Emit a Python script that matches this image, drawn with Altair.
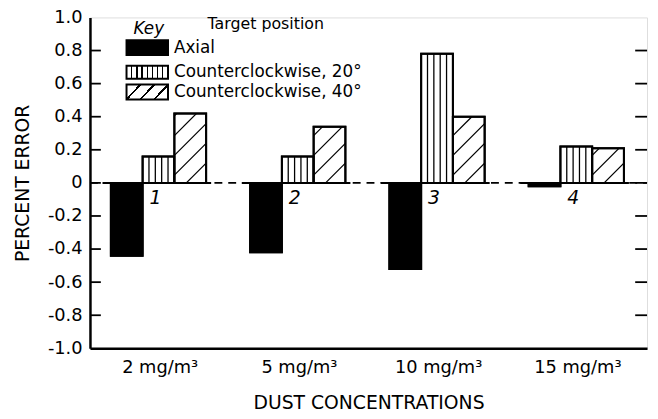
import json
import altair as alt
import pandas as pd

# ---------------- data ----------------
concentrations = ["2 mg/m³", "5 mg/m³", "10 mg/m³", "15 mg/m³"]
group_numbers = ["1", "2", "3", "4"]
series = ["Axial", "Counterclockwise, 20°", "Counterclockwise, 40°"]
axial = [-0.44, -0.42, -0.52, -0.02]
ccw20 = [0.16, 0.16, 0.78, 0.22]
ccw40 = [0.42, 0.34, 0.40, 0.21]
y_ticks = [-1.0, -0.8, -0.6, -0.4, -0.2, 0.0, 0.2, 0.4, 0.6, 0.8, 1.0]
inner_ticks = [-0.8, -0.6, -0.4, -0.2, 0.0, 0.2, 0.4, 0.6, 0.8]

# ---------------- layout / style ----------------
W, H = 564, 335
PXX = W / 4.0          # px per group unit
PXY = H / 2.0          # px per value unit
BAR_W = 0.228
OFFSETS = [-0.35, -0.122, 0.106]
BW_PX = BAR_W * PXX
HATCH_S = 20.0
FONT = "DejaVu Sans"

rows = []
for gi, conc in enumerate(concentrations):
    for si, vals in enumerate([axial, ccw20, ccw40]):
        x0 = gi + 1 + OFFSETS[si]
        rows.append(dict(conc=conc, group=gi + 1, series=series[si],
                         value=vals[gi], x0=x0, x1=x0 + BAR_W, base=0.0))
bars = pd.DataFrame(rows)

groups = pd.DataFrame({"group": list(range(1, len(concentrations) + 1)),
                       "num": group_numbers})

xscale = alt.Scale(domain=[0.5, len(concentrations) + 0.5], nice=False, zero=False)
yscale = alt.Scale(domain=[-1, 1], nice=False, zero=False)

label_expr = json.dumps(concentrations) + "[datum.value - 1]"
xaxis = alt.Axis(values=list(range(1, len(concentrations) + 1)), labelExpr=label_expr,
                 title="DUST CONCENTRATIONS", ticks=False, grid=False,
                 domainColor="black", domainWidth=2.5, labelFontSize=18,
                 labelPadding=10, titleFontSize=19, titlePadding=18,
                 labelFont=FONT, titleFont=FONT, titleFontWeight="normal",
                 labelColor="black", titleColor="black", labelOverlap=False)
yaxis = alt.Axis(values=y_ticks,
                 labelExpr="datum.value == 0 ? '0' : (datum.value < 0 ? '-' : '') + format(abs(datum.value), '.1f')",
                 title="PERCENT ERROR", ticks=False, grid=False,
                 domainColor="black", domainWidth=2.5, labelFontSize=18,
                 labelPadding=8, titleFontSize=19, titlePadding=15,
                 labelFont=FONT, titleFont=FONT, titleFontWeight="normal",
                 labelColor="black", titleColor="black", labelOverlap=False)

one = pd.DataFrame({"a": [0]})

# zero line: dashed across, solid under each group
zero_dash = alt.Chart(one).mark_rule(color="black", strokeWidth=1.8, strokeDash=[8, 6]).encode(
    x=alt.value(0), x2=alt.value(W), y=alt.datum(0, scale=yscale, axis=yaxis))
zero_solid = alt.Chart(groups).transform_calculate(
    xa="datum.group - 0.41", xb="datum.group + 0.37", z="0"
).mark_rule(color="black", strokeWidth=2).encode(
    x=alt.X("xa:Q", scale=xscale, axis=xaxis), x2="xb:Q", y=alt.Y("z:Q", scale=yscale, axis=yaxis))

# bars (fill)
bar_fill = alt.Chart(bars).mark_rect(stroke="black", strokeWidth=2).encode(
    x=alt.X("x0:Q", scale=xscale, axis=xaxis),
    x2="x1:Q",
    y=alt.Y("value:Q", scale=yscale, axis=yaxis),
    y2="base:Q",
    fill=alt.Fill("series:N", scale=alt.Scale(domain=series, range=["black", "white", "white"]),
                  legend=None),
)

# vertical stripes for Counterclockwise, 20°
vstripes = alt.Chart(bars).transform_filter(
    alt.datum.series == series[1]
).transform_calculate(
    ks="sequence(1, 5)"
).transform_flatten(["ks"]).transform_calculate(
    xs=f"datum.x0 + datum.ks * {BAR_W} / 5"
).mark_rule(color="black", strokeWidth=1.3).encode(
    x=alt.X("xs:Q", scale=xscale, axis=xaxis), y=alt.Y("value:Q", scale=yscale, axis=yaxis), y2="base:Q")

# diagonal hatch for Counterclockwise, 40°
hatch = alt.Chart(bars).transform_filter(
    alt.datum.series == series[2]
).transform_calculate(
    ks="sequence(1, 30)"
).transform_flatten(["ks"]).transform_calculate(
    hpx=f"datum.value * {PXY}",
    c=f"-{BW_PX} + datum.ks * {HATCH_S}",
).transform_filter("datum.c < datum.hpx").transform_calculate(
    u1="max(0, -datum.c)",
    u2=f"min({BW_PX}, datum.hpx - datum.c)",
).transform_filter("datum.u2 > datum.u1").transform_calculate(
    hx1=f"datum.x0 + datum.u1 / {PXX}",
    hx2=f"datum.x0 + datum.u2 / {PXX}",
    hy1=f"(datum.u1 + datum.c) / {PXY}",
    hy2=f"(datum.u2 + datum.c) / {PXY}",
).mark_rule(color="black", strokeWidth=1.3).encode(
    x=alt.X("hx1:Q", scale=xscale, axis=xaxis), x2="hx2:Q",
    y=alt.Y("hy1:Q", scale=yscale, axis=yaxis), y2="hy2:Q")

# outlines on top
bar_outline = alt.Chart(bars).mark_rect(stroke="black", strokeWidth=2, fillOpacity=0, fill="white").encode(
    x=alt.X("x0:Q", scale=xscale, axis=xaxis), x2="x1:Q",
    y=alt.Y("value:Q", scale=yscale, axis=yaxis), y2="base:Q")

# group number labels
nums = alt.Chart(groups).transform_calculate(
    xn="datum.group - 0.03", yn="-0.09"
).mark_text(font=FONT, fontSize=19, fontStyle="italic", color="black",
            baseline="middle", align="center").encode(
    x=alt.X("xn:Q", scale=xscale, axis=xaxis), y=alt.Y("yn:Q", scale=yscale, axis=yaxis), text="num:N")

# inward ticks on left and right
tick_df = pd.DataFrame({"t": inner_ticks})
ticks_left = alt.Chart(tick_df).mark_rule(color="black", strokeWidth=1.8).encode(
    x=alt.value(0), x2=alt.value(11), y=alt.Y("t:Q", scale=yscale, axis=yaxis))
ticks_right = alt.Chart(tick_df).mark_rule(color="black", strokeWidth=1.8).encode(
    x=alt.value(W - 12), x2=alt.value(W), y=alt.Y("t:Q", scale=yscale, axis=yaxis))

# ---------------- custom key ----------------
def txt(s, x, y, size=17, style="normal"):
    return alt.Chart(pd.DataFrame({"s": [s]})).mark_text(
        font=FONT, fontSize=size, fontStyle=style, color="black",
        align="left", baseline="middle").encode(
        text="s:N", x=alt.value(x), y=alt.value(y))

def stops_for(ts, d):
    st = [{"offset": 0, "color": "white"}]
    for t in ts:
        st += [{"offset": t - d, "color": "white"}, {"offset": t - d, "color": "black"},
               {"offset": t + d, "color": "black"}, {"offset": t + d, "color": "white"}]
    st.append({"offset": 1, "color": "white"})
    return st

vgrad = {"gradient": "linear", "x1": 0, "y1": 0, "x2": 1, "y2": 0,
         "stops": stops_for([k / 8 for k in range(1, 8)], 0.016)}
dgrad = {"gradient": "linear", "x1": 0, "y1": 0, "x2": 1.2, "y2": 0.4,
         "stops": stops_for([0.25, 0.5, 0.75], 0.022)}

def swatch(fill, y1, y2):
    return alt.Chart(one).mark_rect(fill=fill, stroke="black", strokeWidth=2).encode(
        x=alt.value(37), x2=alt.value(79), y=alt.value(y1), y2=alt.value(y2))

key_layers = [
    txt("Key", 44, 12, 17, "italic"),
    txt("Target position", 119, 7, 16),
    swatch("black", 23, 38), txt(series[0], 85, 31),
    swatch(vgrad, 49, 62), txt(series[1], 85, 55.5),
    swatch(dgrad, 68, 83), txt(series[2], 85, 75.5),
]

chart = alt.layer(
    zero_dash, zero_solid, bar_fill, vstripes, hatch, bar_outline, nums,
    ticks_left, ticks_right, *key_layers
).properties(
    width=W, height=H,
    padding={"left": 83, "top": 7, "right": 3, "bottom": 70},
    autosize=alt.AutoSizeParams(type="none"),
).configure_view(stroke="black", strokeWidth=2).configure_axis(
    labelOverlap=False
).configure(background="white")

chart.save("out.html", embed_options={"renderer": "svg", "actions": False})
